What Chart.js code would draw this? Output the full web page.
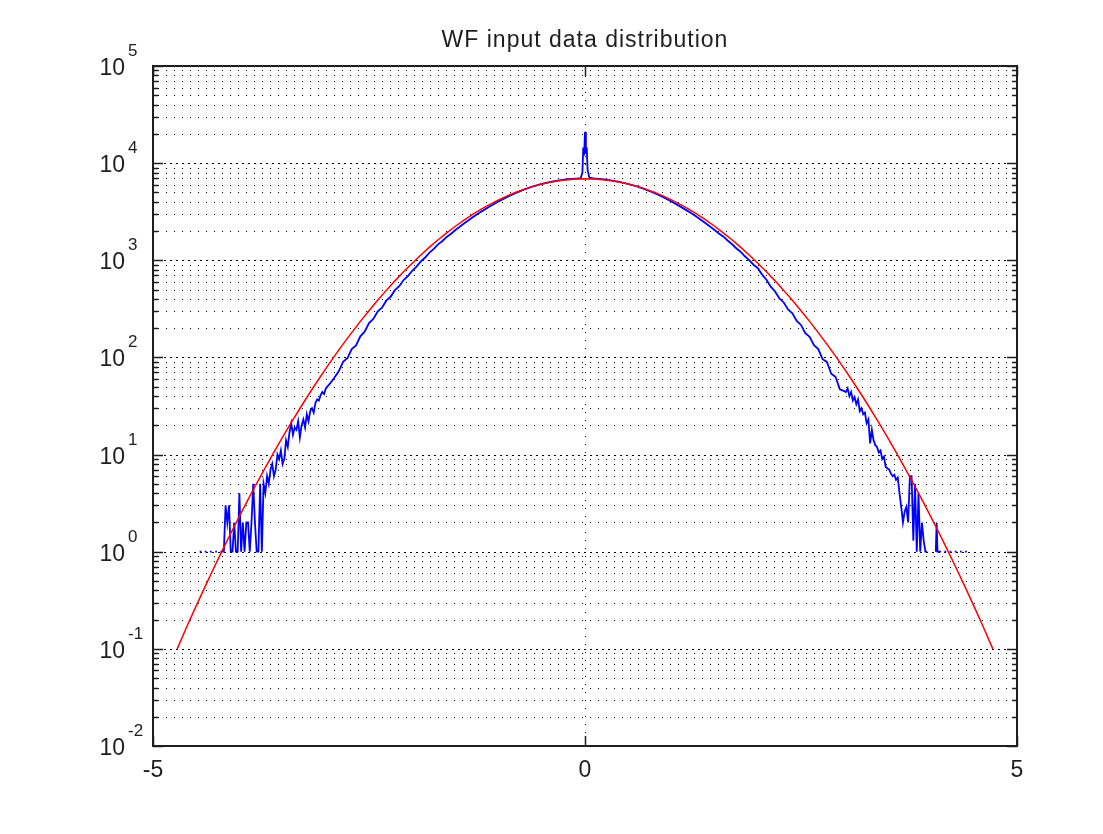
<!DOCTYPE html>
<html>
<head>
<meta charset="utf-8">
<title>WF input data distribution</title>
<script src="https://cdn.jsdelivr.net/npm/chart.js@4.4.1/dist/chart.umd.min.js"></script>
<style>
  html, body { margin: 0; padding: 0; background: #fff; }
  #wrap { width: 1103px; height: 834px; }
</style>
</head>
<body>
<div id="wrap"><canvas id="chart" width="1103" height="834"></canvas></div>
<script>
const chartTitle = "WF input data distribution";
const xTicks = [-5, 0, 5];
const yExponents = [-2, -1, 0, 1, 2, 3, 4, 5];

// red: fitted normal curve
const redX = [
  -4.72, -4.6, -4.5, -4.4, -4.3, -4.2, -4.1, -4.0, -3.9, -3.8, -3.7, -3.6, -3.5, -3.4, -3.3, -3.2,
  -3.1, -3.0, -2.9, -2.8, -2.7, -2.6, -2.5, -2.4, -2.3, -2.2, -2.1, -2.0, -1.9, -1.8, -1.7, -1.6,
  -1.5, -1.4, -1.3, -1.2, -1.1, -1.0, -0.9, -0.8, -0.7, -0.6, -0.5, -0.4, -0.3, -0.2, -0.1, 0,
  0.1, 0.2, 0.3, 0.4, 0.5, 0.6, 0.7, 0.8, 0.9, 1.0, 1.1, 1.2, 1.3, 1.4, 1.5, 1.6,
  1.7, 1.8, 1.9, 2.0, 2.1, 2.2, 2.3, 2.4, 2.5, 2.6, 2.7, 2.8, 2.9, 3.0, 3.1, 3.2,
  3.3, 3.4, 3.5, 3.6, 3.7, 3.8, 3.9, 4.0, 4.1, 4.2, 4.3, 4.4, 4.5, 4.6, 4.72
];
const redY = [
  0.1, 0.176, 0.277, 0.432, 0.667, 1.02, 1.55, 2.31, 3.44, 5.05, 7.35, 10.6, 15.1, 21.3, 29.8, 41.3,
  56.5, 76.7, 103, 137, 180, 235, 303, 387, 490, 614, 761, 934, 1135, 1365, 1626, 1918,
  2240, 2590, 2964, 3359, 3768, 4185, 4603, 5012, 5402, 5764, 6089, 6370, 6597, 6763, 6866, 6900,
  6866, 6763, 6597, 6370, 6089, 5764, 5402, 5012, 4603, 4185, 3768, 3359, 2964, 2590, 2240, 1918,
  1626, 1365, 1135, 934, 761, 614, 490, 387, 303, 235, 180, 137, 103, 76.7, 56.5, 41.3,
  29.8, 21.3, 15.1, 10.6, 7.35, 5.05, 3.44, 2.31, 1.55, 1.02, 0.667, 0.432, 0.277, 0.176, 0.1
];

// blue: measured histogram (null = empty bin)
const blueX = [
  -4.46, -4.44, -4.42, -4.40, -4.38, -4.36, -4.34, -4.32, -4.30, -4.28, -4.26, -4.24, -4.22, -4.20,
  -4.18, -4.16, -4.14, -4.12, -4.10, -4.08, -4.06, -4.04, -4.02, -4.00, -3.98, -3.96, -3.94, -3.92,
  -3.90, -3.88, -3.86, -3.84, -3.82, -3.80, -3.78, -3.76, -3.74, -3.72, -3.70, -3.68, -3.66, -3.64,
  -3.62, -3.60, -3.58, -3.56, -3.54, -3.52, -3.50, -3.48, -3.46, -3.44, -3.42, -3.40, -3.38, -3.36,
  -3.34, -3.32, -3.30, -3.28, -3.26, -3.24, -3.22, -3.20, -3.18, -3.16, -3.14, -3.12, -3.10, -3.08,
  -3.06, -3.04, -3.02, -3.00, -2.95, -2.90, -2.85, -2.80, -2.75, -2.70, -2.65, -2.60, -2.55, -2.50,
  -2.45, -2.40, -2.35, -2.30, -2.25, -2.20, -2.15, -2.10, -2.05, -2.00, -1.95, -1.90, -1.85, -1.80,
  -1.75, -1.70, -1.65, -1.60, -1.55, -1.50, -1.4, -1.3, -1.2, -1.1, -1.0, -0.9, -0.8, -0.7,
  -0.6, -0.5, -0.4, -0.3, -0.2, -0.1, -0.05, -0.03, -0.02, -0.01, 0, 0.01, 0.02, 0.03,
  0.05, 0.1, 0.2, 0.3, 0.4, 0.5, 0.6, 0.7, 0.8, 0.9, 1.0, 1.1, 1.2, 1.3,
  1.4, 1.5, 1.55, 1.60, 1.65, 1.70, 1.75, 1.80, 1.85, 1.90, 1.95, 2.00, 2.05, 2.10,
  2.15, 2.20, 2.25, 2.30, 2.35, 2.40, 2.45, 2.50, 2.55, 2.60, 2.65, 2.70, 2.75, 2.80,
  2.85, 2.90, 2.95, 3.00, 3.02, 3.04, 3.06, 3.08, 3.10, 3.12, 3.14, 3.16, 3.18, 3.20,
  3.22, 3.24, 3.26, 3.28, 3.30, 3.32, 3.34, 3.36, 3.38, 3.40, 3.42, 3.44, 3.46, 3.48,
  3.50, 3.52, 3.54, 3.56, 3.58, 3.60, 3.62, 3.64, 3.66, 3.68, 3.70, 3.72, 3.74, 3.76,
  3.78, 3.80, 3.82, 3.84, 3.86, 3.88, 3.90, 3.92, 3.94, 3.96, 3.98, 4.02, 4.06, 4.07,
  4.08, 4.10, 4.12, 4.14, 4.16, 4.18, 4.20, 4.22, 4.24, 4.26, 4.28, 4.30, 4.32, 4.34,
  4.36, 4.38, 4.40, 4.42, 4.44, 4.46
];
const blueY = [
  1, 1, null, 1, 1, null, 1, 1, null, 1, 1, null, 1, 1,
  1, 3, 2, 3, 1, 1, 2, 1, 1, 4, 1, 2, 1, 2,
  2, 1, 2, 5, 2, 1, 1, 5, 1, 5, 4, 6, 5, 7,
  8, 6, 7, 10, 9, 11, 8, 9, 14, 12, 17, 21, 16, 19,
  18, 22, 15, 20, 23, 19, 26, 22, 28, 30, 27, 34, 37, 36,
  41, 44, 42, 48, 54, 62, 72, 90, 98, 122, 133, 165, 184, 226,
  249, 296, 325, 384, 421, 492, 541, 626, 688, 780, 860, 975, 1068, 1200,
  1310, 1460, 1580, 1740, 1875, 2050, 2390, 2770, 3170, 3600, 4040, 4490, 4930, 5370,
  5760, 6120, 6400, 6650, 6850, 6940, 6990, 8000, 14500, 12000, 21000, 12500, 14500, 8500,
  7100, 6950, 6840, 6660, 6420, 6100, 5760, 5370, 4930, 4480, 4030, 3590, 3170, 2770,
  2390, 2050, 1890, 1760, 1600, 1470, 1330, 1225, 1100, 1005, 900, 830, 712, 630,
  535, 478, 405, 368, 312, 284, 238, 216, 178, 163, 134, 122, 96, 90,
  68, 63, 47, 45, 44, 48, 40, 44, 36, 39, 33, 37, 28, 30,
  26, 27, 21, 23, 13, 18, 14, 12.5, 12, 10.5, 11, 9, 9.5, 7.5,
  7.2, 7, 6.4, 6, 6.2, 5.5, 5.8, 4, 2.9, 2, 2.6, 2.9, 2, 6,
  6, 1.3, 5, 1, 4, 1, 2, 1.3, 1, 1, null, null, 1, 2,
  1, 1, 1, null, 1, 1, null, 1, 1, null, 1, 1, null, 1,
  1, null, 1, 1, null, 1
];

const toPoints = (xs, ys) => xs.map((x, i) => ({ x: x, y: ys[i] }));

const FONT = "'Liberation Sans', Arial, sans-serif";
const INK = "#1e1e1e";

// MATLAB-like box, dotted log grid, inner ticks and labels
const matlabAxes = {
  id: "matlabAxes",
  beforeDatasetsDraw(chart) {
    const { ctx, chartArea: a, scales } = chart;
    const x = scales.x, y = scales.y;
    ctx.save();
    ctx.strokeStyle = "#000";
    ctx.lineWidth = 1;
    yExponents.forEach((e) => {
      for (let m = 1; m <= 9; m++) {
        const v = m * Math.pow(10, e);
        if (v <= y.min * 1.001 || v >= y.max * 0.999) continue;
        const py = Math.round(y.getPixelForValue(v)) + 0.5;
        ctx.setLineDash(m === 1 ? [2, 4] : [1, 7]);
        ctx.lineDashOffset = -5;
        ctx.beginPath();
        ctx.moveTo(a.left, py);
        ctx.lineTo(a.right, py);
        ctx.stroke();
      }
    });
    xTicks.forEach((t) => {
      const px = Math.round(x.getPixelForValue(t)) + 0.5;
      if (px <= a.left + 1 || px >= a.right - 1) return;
      ctx.setLineDash([1, 7]);
      ctx.beginPath();
      ctx.moveTo(px, a.bottom);
      ctx.lineTo(px, a.top);
      ctx.stroke();
    });
    ctx.restore();
  },
  afterDraw(chart) {
    const { ctx, chartArea: a, scales } = chart;
    const x = scales.x, y = scales.y;
    ctx.save();
    ctx.setLineDash([]);
    ctx.strokeStyle = INK;

    // inner ticks on left and right
    ctx.lineWidth = 1.5;
    yExponents.forEach((e) => {
      for (let m = 1; m <= 9; m++) {
        const v = m * Math.pow(10, e);
        if (v < y.min * 0.999 || v > y.max * 1.001) continue;
        const py = Math.round(y.getPixelForValue(v)) + 0.5;
        const len = m === 1 ? 10 : 5;
        ctx.beginPath();
        ctx.moveTo(a.left, py);
        ctx.lineTo(a.left + len, py);
        ctx.moveTo(a.right, py);
        ctx.lineTo(a.right - len, py);
        ctx.stroke();
      }
    });
    xTicks.forEach((t) => {
      const px = Math.round(x.getPixelForValue(t)) + 0.5;
      ctx.beginPath();
      ctx.moveTo(px, a.bottom);
      ctx.lineTo(px, a.bottom - 10);
      ctx.moveTo(px, a.top);
      ctx.lineTo(px, a.top + 10);
      ctx.stroke();
    });

    // box
    ctx.lineWidth = 2;
    ctx.strokeRect(a.left, a.top, a.right - a.left, a.bottom - a.top);

    // y labels: 10 with superscript exponent
    ctx.fillStyle = INK;
    yExponents.forEach((e) => {
      const py = y.getPixelForValue(Math.pow(10, e));
      ctx.font = "23px " + FONT;
      ctx.textAlign = "right";
      ctx.textBaseline = "alphabetic";
      ctx.fillText("10", a.left - 28, py + 9);
      ctx.font = "17px " + FONT;
      ctx.textAlign = "left";
      ctx.fillText(String(e), a.left - 25, py - 10);
    });

    // x labels
    ctx.font = "23px " + FONT;
    ctx.textAlign = "center";
    xTicks.forEach((t) => {
      const px = x.getPixelForValue(t);
      ctx.fillText(String(t), px, a.bottom + 31);
    });

    // title
    ctx.font = "23px " + FONT;
    if ("letterSpacing" in ctx) ctx.letterSpacing = "1px";
    ctx.fillText(chartTitle, (a.left + a.right) / 2, 47);
    ctx.restore();
  }
};

const canvas = document.getElementById("chart");

const wfChart = new Chart(canvas, {
  type: "line",
  data: {
    datasets: [
      {
        label: "normal fit",
        data: toPoints(redX, redY),
        borderColor: "#ff0000",
        borderWidth: 1.5,
        pointRadius: 0,
        tension: 0,
      },
      {
        label: "WF input data",
        data: toPoints(blueX, blueY),
        borderColor: "#0000ff",
        borderWidth: 1.8,
        pointRadius: 0,
        tension: 0,
        spanGaps: false,
      },
    ],
  },
  options: {
    responsive: false,
    animation: false,
    events: [],
    layout: { padding: { left: 153, right: 86, top: 66, bottom: 88 } },
    plugins: {
      legend: { display: false },
      tooltip: { enabled: false },
      title: { display: false },
    },
    scales: {
      x: { type: "linear", display: false, min: -5, max: 5 },
      y: { type: "logarithmic", display: false, min: 0.01, max: 100000 },
    },
  },
  plugins: [matlabAxes],
});
</script>
</body>
</html>
